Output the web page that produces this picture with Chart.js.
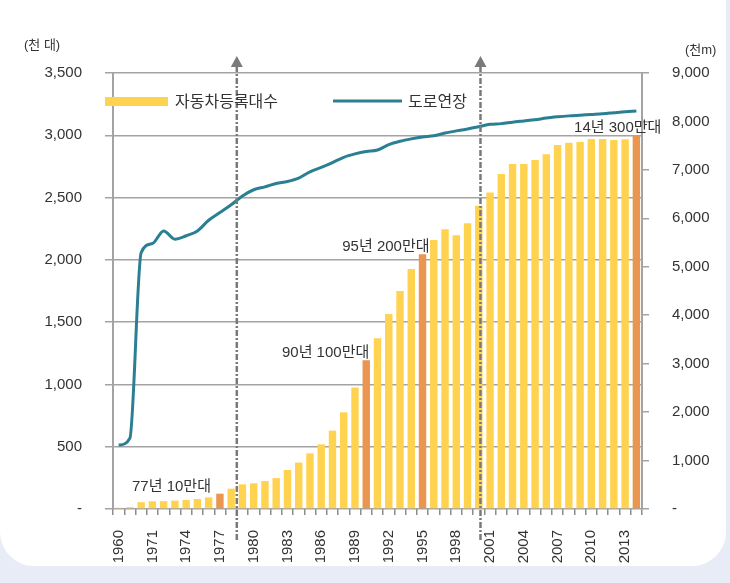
<!DOCTYPE html>
<html>
<head>
<meta charset="utf-8">
<script src="https://cdn.jsdelivr.net/npm/chart.js@4.4.1/dist/chart.umd.min.js"></script>
<style>
  html, body { margin: 0; padding: 0; width: 730px; height: 583px; overflow: hidden; background: #e8ecf6; }
  #card { position: absolute; left: 0; top: -40px; width: 726px; height: 606px; background: #fff; border-radius: 0 0 34px 34px; }
  #wrap { position: absolute; left: 0; top: 0; width: 730px; height: 583px; }
</style>
</head>
<body>
<div id="card"></div>
<div id="wrap"><canvas id="chart" width="730" height="583"></canvas></div>
<script>
// categories (1960, 1965, 1970, then yearly)
const years = ['1960', '1965', '1970', '1971', '1972', '1973', '1974', '1975', '1976', '1977',
    '1978', '1979', '1980', '1981', '1982', '1983', '1984', '1985', '1986', '1987',
    '1988', '1989', '1990', '1991', '1992', '1993', '1994', '1995', '1996', '1997',
    '1998', '1999', '2000', '2001', '2002', '2003', '2004', '2005', '2006', '2007',
    '2008', '2009', '2010', '2011', '2012', '2013', '2014'];

// 자동차등록대수 (천 대)
const carRegistrations = [10, 15, 55, 62, 63, 67, 72, 80, 93, 123,
    163, 198, 206, 225, 248, 313, 373, 447, 519, 629,
    776, 975, 1195, 1370, 1565, 1750, 1927, 2045, 2160, 2245,
    2197, 2293, 2435, 2540, 2690, 2770, 2770, 2802, 2847, 2922,
    2941, 2946, 2970, 2970, 2962, 2968, 3002];

// 도로연장 (천m)
const roadLength = [1320, 1460, 5290, 5480, 5740, 5570, 5640, 5740, 5960, 6120,
    6280, 6460, 6590, 6650, 6720, 6760, 6830, 6960, 7050, 7150,
    7260, 7330, 7380, 7410, 7520, 7590, 7640, 7680, 7705, 7760,
    7805, 7845, 7890, 7940, 7955, 7985, 8010, 8035, 8070, 8095,
    8115, 8130, 8145, 8160, 8180, 8200, 8215];

// milestone years and their labels
const milestoneYears = ['1977', '1990', '1995', '2014'];
const milestoneLabels = ['77년 10만대', '90년 100만대', '95년 200만대', '14년 300만대'];

const leftTicks = [0, 500, 1000, 1500, 2000, 2500, 3000, 3500];
const rightTicks = [0, 1000, 2000, 3000, 4000, 5000, 6000, 7000, 8000, 9000];

const YELLOW = '#ffd34f';
const ORANGE = '#ea9650';
const TEAL = '#2b7f93';
const GRID = '#a3a3a3';
const TEXT = '#333333';
const FONT = '"Liberation Sans", "Noto Sans CJK KR", sans-serif';

function fmt(v) {
    return v === 0 ? '-' : v.toLocaleString('en-US');
}

// dashed marker lines, annotations, legend and unit labels
const overlayPlugin = {
    id: 'overlay',
    afterDatasetsDraw(chart) {
        const ctx = chart.ctx;
        const x = chart.scales.x;
        const y = chart.scales.y;

        // dash-dot marker lines with arrow heads
        [10.5, 32.15].forEach(pos => {
            const i = Math.floor(pos);
            const px = x.getPixelForValue(i) + (pos - i) * (x.getPixelForValue(i + 1) - x.getPixelForValue(i));
            ctx.save();
            ctx.strokeStyle = '#7a7a7a';
            ctx.lineWidth = 2.5;
            ctx.setLineDash([6, 2, 2, 2]);
            ctx.beginPath();
            ctx.moveTo(px, 66);
            ctx.lineTo(px, 540);
            ctx.stroke();
            ctx.setLineDash([]);
            ctx.fillStyle = '#7a7a7a';
            ctx.beginPath();
            ctx.moveTo(px, 56);
            ctx.lineTo(px - 6, 67);
            ctx.lineTo(px + 6, 67);
            ctx.closePath();
            ctx.fill();
            ctx.restore();
        });

        // milestone annotations
        const offsets = [-9, 3, 7, 25];
        ctx.save();
        ctx.font = '15px ' + FONT;
        ctx.fillStyle = TEXT;
        ctx.textAlign = 'right';
        ctx.textBaseline = 'middle';
        milestoneYears.forEach((yr, k) => {
            const i = years.indexOf(yr);
            const px = x.getPixelForValue(i) + offsets[k];
            const py = y.getPixelForValue(carRegistrations[i]) - 7;
            ctx.fillText(milestoneLabels[k], px, py);
        });
        ctx.restore();

        // legend
        ctx.save();
        ctx.fillStyle = YELLOW;
        ctx.fillRect(105, 97, 63, 9);
        ctx.strokeStyle = TEAL;
        ctx.lineWidth = 3;
        ctx.beginPath();
        ctx.moveTo(333, 101);
        ctx.lineTo(402, 101);
        ctx.stroke();
        ctx.font = '16px ' + FONT;
        ctx.fillStyle = TEXT;
        ctx.textBaseline = 'middle';
        ctx.textAlign = 'left';
        ctx.fillText('자동차등록대수', 175, 103);
        ctx.fillText('도로연장', 408, 103);

        // unit labels
        ctx.font = '13px ' + FONT;
        ctx.fillText('(천 대)', 24, 45);
        ctx.fillText('(천m)', 685, 50);
        ctx.restore();
    }
};

const ctx = document.getElementById('chart').getContext('2d');
new Chart(ctx, {
    data: {
        labels: years,
        datasets: [{
            type: 'line',
            label: '도로연장',
            data: roadLength,
            yAxisID: 'y1',
            borderColor: TEAL,
            borderWidth: 3,
            pointRadius: 0,
            cubicInterpolationMode: 'monotone',
            order: 0
        }, {
            type: 'bar',
            label: '자동차등록대수',
            data: carRegistrations,
            yAxisID: 'y',
            backgroundColor: c => milestoneYears.includes(years[c.dataIndex]) ? ORANGE : YELLOW,
            barPercentage: 0.66,
            categoryPercentage: 1.0,
            order: 1
        }]
    },
    options: {
        responsive: false,
        animation: false,
        layout: { padding: { top: 73, left: 0, right: 0, bottom: 0 } },
        plugins: {
            legend: { display: false },
            tooltip: { enabled: false }
        },
        scales: {
            x: {
                grid: {
                    offset: true,
                    drawOnChartArea: false,
                    drawTicks: true,
                    tickLength: 6,
                    color: '#8c8c8c',
                    lineWidth: 1.5
                },
                border: { display: false },
                ticks: {
                    autoSkip: false,
                    minRotation: 90,
                    maxRotation: 90,
                    padding: 15,
                    color: TEXT,
                    font: { family: FONT, size: 15 },
                    callback: (v, i) => (i % 3 === 0 ? years[i] : '')
                },
                afterFit: s => { s.height = 74; }
            },
            y: {
                position: 'left',
                min: 0,
                max: 3500,
                afterBuildTicks: s => { s.ticks = leftTicks.map(v => ({ value: v })); },
                grid: { color: GRID, lineWidth: 1.5, tickLength: 8 },
                border: { color: GRID, width: 2 },
                ticks: {
                    padding: 23,
                    color: TEXT,
                    font: { family: FONT, size: 15 },
                    callback: v => fmt(v)
                },
                afterFit: s => { s.width = 113; }
            },
            y1: {
                position: 'right',
                min: 0,
                max: 9000,
                afterBuildTicks: s => { s.ticks = rightTicks.map(v => ({ value: v })); },
                grid: { drawOnChartArea: false, color: GRID, lineWidth: 1.5, tickLength: 7 },
                border: { color: GRID, width: 2 },
                ticks: {
                    padding: 23,
                    color: TEXT,
                    font: { family: FONT, size: 15 },
                    callback: v => fmt(v)
                },
                afterFit: s => { s.width = 88; }
            }
        }
    },
    plugins: [overlayPlugin]
});
</script>
</body>
</html>
